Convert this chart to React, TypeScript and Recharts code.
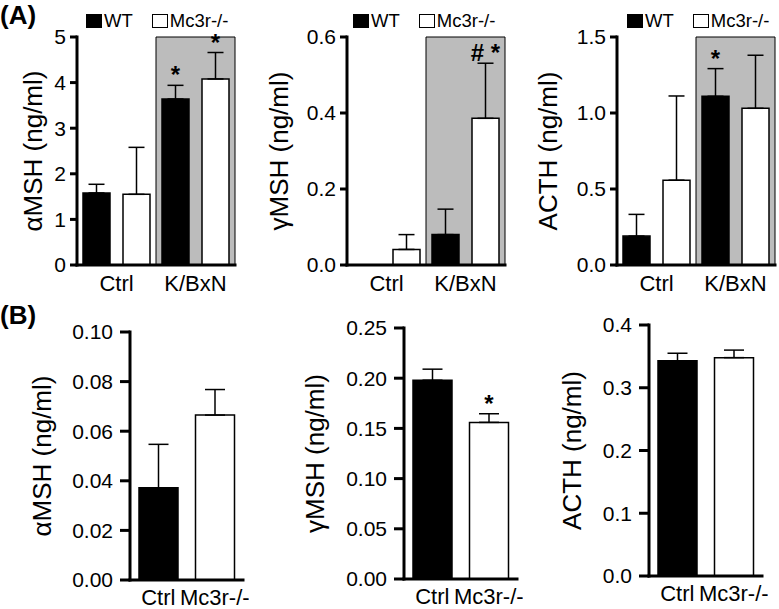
import React from "react";
import {
  BarChart,
  Bar,
  XAxis,
  YAxis,
  ErrorBar,
  ReferenceArea,
  Legend,
  Cell,
  LabelList,
} from "recharts";

const FONT = '"Liberation Sans", Arial, Helvetica, sans-serif';

// (A) WT vs Mc3r-/- in control and K/BxN mice
const groups = ["Ctrl", "K/BxN"];
const seriesNames = ["WT", "Mc3r-/-"];

const amshWt = [1.58, 3.64];
const amshWtErr = [0.19, 0.3];
const amshKo = [1.55, 4.08];
const amshKoErr = [1.03, 0.58];
const amshWtSig = ["", "*"];
const amshKoSig = ["", "*"];
const amshTicks = [0, 1, 2, 3, 4, 5];

const gmshWt = [0, 0.08];
const gmshWtErr = [0, 0.067];
const gmshKo = [0.041, 0.386];
const gmshKoErr = [0.039, 0.145];
const gmshWtSig = ["", ""];
const gmshKoSig = ["", "# *"];
const gmshTicks = [0, 0.2, 0.4, 0.6];

const acthWt = [0.19, 1.11];
const acthWtErr = [0.143, 0.182];
const acthKo = [0.558, 1.031];
const acthKoErr = [0.554, 0.349];
const acthWtSig = ["", "*"];
const acthKoSig = ["", ""];
const acthTicks = [0, 0.5, 1.0, 1.5];

// (B) Ctrl vs Mc3r-/-
const genotypes = ["Ctrl", "Mc3r-/-"];
const genotypeFills = ["#000", "#fff"];

const bAmsh = [0.0372, 0.0665];
const bAmshErr = [0.0175, 0.0103];
const bAmshSig = ["", ""];
const bAmshTicks = [0, 0.02, 0.04, 0.06, 0.08, 0.1];

const bGmsh = [0.198, 0.156];
const bGmshErr = [0.011, 0.0086];
const bGmshSig = ["", "*"];
const bGmshTicks = [0, 0.05, 0.1, 0.15, 0.2, 0.25];

const bActh = [0.343, 0.348];
const bActhErr = [0.012, 0.012];
const bActhSig = ["", ""];
const bActhTicks = [0, 0.1, 0.2, 0.3, 0.4];

const groupRows = (
  wt: number[], wtErr: number[], wtSig: string[],
  ko: number[], koErr: number[], koSig: string[]
) =>
  groups.map((g, i) => ({
    group: g,
    wt: wt[i],
    wtErr: [0, wtErr[i]],
    wtSig: wtSig[i],
    ko: ko[i],
    koErr: [0, koErr[i]],
    koSig: koSig[i],
  }));

const genotypeRows = (vals: number[], errs: number[], sig: string[]) =>
  genotypes.map((g, i) => ({ group: g, value: vals[i], err: [0, errs[i]], sig: sig[i] }));

// star / hash drawn just above the error bar cap
const sigLabel = (vals: number[], errs: number[]) => (p: any) => {
  const text = p.value;
  if (!text) return null;
  const vb = p.viewBox ?? p;
  const i = p.index;
  const h = Math.abs(vb.height);
  const top = Math.min(vb.y, vb.y + vb.height);
  const perUnit = vals[i] ? h / vals[i] : 0;
  const capY = top - errs[i] * perUnit;
  return (
    <text
      x={vb.x + vb.width / 2}
      y={capY - 2}
      textAnchor="middle"
      fontSize={24}
      fontWeight="bold"
      fontFamily={FONT}
      fill="#000"
    >
      {text}
    </text>
  );
};

const axisLine = { stroke: "#000", strokeWidth: 3, strokeLinecap: "square" as const };

const yTitle = (title: string, relX: number) => (p: any) => {
  const vb = p.viewBox ?? { x: 0, y: 0, width: 0, height: 0 };
  const x = vb.x + relX;
  const y = vb.y + vb.height / 2;
  return (
    <text
      x={x}
      y={y}
      transform={`rotate(-90 ${x} ${y})`}
      textAnchor="middle"
      dominantBaseline="central"
      fontSize={26}
      fontFamily={FONT}
      fill="#000"
    >
      {title}
    </text>
  );
};

const LegendBox = (props: any) => {
  const items = [...(props.payload ?? [])].sort(
    (a: any, b: any) => seriesNames.indexOf(a.value) - seriesNames.indexOf(b.value)
  );
  return (
    <div
      style={{
        display: "flex",
        alignItems: "center",
        fontFamily: FONT,
        fontSize: 18.5,
        lineHeight: "18.5px",
        color: "#000",
        whiteSpace: "nowrap",
      }}
    >
      {items.map((item: any, i: number) => (
        <div key={item.value} style={{ display: "flex", alignItems: "center", marginLeft: i ? 19 : 0 }}>
          <span
            style={{
              display: "inline-block",
              width: 16,
              height: 14,
              boxSizing: "border-box",
              background: item.color,
              border: "1.5px solid #000",
              marginRight: 2,
            }}
          />
          <span>{item.value}</span>
        </div>
      ))}
    </div>
  );
};

const Y_A = 95;
const A_TOP = 37;
const A_H = 228;

interface GroupPanelProps {
  axisX: number;
  plotW: number;
  titleX: number;
  legendX: number;
  title: string;
  ticks: number[];
  decimals: number;
  wt: number[]; wtErr: number[]; wtSig: string[];
  ko: number[]; koErr: number[]; koSig: string[];
}

const GroupPanel = (p: GroupPanelProps) => {
  const left = p.axisX - Y_A;
  const data = groupRows(p.wt, p.wtErr, p.wtSig, p.ko, p.koErr, p.koSig);
  const width = Y_A + p.plotW + 6;
  return (
    <div style={{ position: "absolute", left, top: 0 }}>
      <BarChart
        width={width}
        height={A_TOP + A_H + 40}
        data={data}
        margin={{ top: A_TOP, right: 6, left: 0, bottom: 0 }}
        barGap={13}
      >
        <ReferenceArea
          x1="K/BxN"
          x2="K/BxN"
          fill="#bcbcbc"
          fillOpacity={1}
          stroke="#000"
          strokeWidth={1}
        />
        <XAxis
          dataKey="group"
          type="category"
          interval={0}
          height={40}
          tickLine={false}
          tickSize={0}
          tickMargin={10}
          axisLine={axisLine}
          tick={{ fill: "#000", fontSize: 22, fontFamily: FONT }}
        />
        <YAxis
          type="number"
          width={Y_A}
          domain={[0, p.ticks[p.ticks.length - 1]]}
          ticks={p.ticks}
          interval={0}
          tickFormatter={(v: number) => v.toFixed(p.decimals)}
          axisLine={axisLine}
          tickLine={{ stroke: "#000", strokeWidth: 3 }}
          tickSize={7}
          tickMargin={4}
          tick={{ fill: "#000", fontSize: 21, fontFamily: FONT }}
          label={yTitle(p.title, p.titleX - left)}
        />
        <Legend
          layout="horizontal"
          verticalAlign="middle"
          align="center"
          wrapperStyle={{ top: 12, left: p.legendX - left, width: "auto" }}
          content={LegendBox}
        />
        <Bar dataKey="wt" name="WT" fill="#000" stroke="#000" strokeWidth={1.5} barSize={27} isAnimationActive={false}>
          <ErrorBar dataKey="wtErr" direction="y" width={8} stroke="#000" strokeWidth={1.5} />
          <LabelList dataKey="wtSig" content={sigLabel(p.wt, p.wtErr)} />
        </Bar>
        <Bar dataKey="ko" name="Mc3r-/-" fill="#fff" stroke="#000" strokeWidth={1.5} barSize={27} isAnimationActive={false}>
          <ErrorBar dataKey="koErr" direction="y" width={8} stroke="#000" strokeWidth={1.5} />
          <LabelList dataKey="koSig" content={sigLabel(p.ko, p.koErr)} />
        </Bar>
      </BarChart>
    </div>
  );
};

const Y_B = 120;
const B_TOP = 300;

interface GenotypePanelProps {
  axisX: number;
  plotTop: number;
  plotBottom: number;
  titleX: number;
  title: string;
  ticks: number[];
  decimals: number;
  vals: number[];
  errs: number[];
  sig: string[];
}

const GenotypePanel = (p: GenotypePanelProps) => {
  const left = p.axisX - Y_B;
  const mTop = p.plotTop - B_TOP;
  const plotH = p.plotBottom - p.plotTop;
  const data = genotypeRows(p.vals, p.errs, p.sig);
  return (
    <div style={{ position: "absolute", left, top: B_TOP }}>
      <BarChart
        width={Y_B + 113 + 6}
        height={mTop + plotH + 29}
        data={data}
        margin={{ top: mTop, right: 6, left: 0, bottom: 0 }}
      >
        <XAxis
          dataKey="group"
          type="category"
          interval={0}
          height={29}
          tickLine={false}
          tickSize={0}
          tickMargin={9}
          axisLine={axisLine}
          tick={{ fill: "#000", fontSize: 22, fontFamily: FONT }}
        />
        <YAxis
          type="number"
          width={Y_B}
          domain={[0, p.ticks[p.ticks.length - 1]]}
          ticks={p.ticks}
          interval={0}
          tickFormatter={(v: number) => v.toFixed(p.decimals)}
          axisLine={axisLine}
          tickLine={{ stroke: "#000", strokeWidth: 3 }}
          tickSize={10}
          tickMargin={7}
          tick={{ fill: "#000", fontSize: 21, fontFamily: FONT }}
          label={yTitle(p.title, p.titleX - left)}
        />
        <Bar dataKey="value" stroke="#000" strokeWidth={1.5} barSize={39} isAnimationActive={false}>
          {data.map((d, i) => (
            <Cell key={d.group} fill={genotypeFills[i]} />
          ))}
          <ErrorBar dataKey="err" direction="y" width={10} stroke="#000" strokeWidth={1.5} />
          <LabelList dataKey="sig" content={sigLabel(p.vals, p.errs)} />
        </Bar>
      </BarChart>
    </div>
  );
};

const panelTag = (top: number): React.CSSProperties => ({
  position: "absolute",
  left: 0,
  top,
  fontFamily: FONT,
  fontWeight: "bold",
  fontSize: 26,
  lineHeight: "30px",
  color: "#000",
});

export default function App() {
  return (
    <div style={{ position: "absolute", left: 0, top: 0, width: 779, height: 609, background: "#fff" }}>
      <div style={panelTag(0)}>(A)</div>
      <div style={panelTag(300)}>(B)</div>

      <GroupPanel axisX={77} plotW={158} titleX={33} legendX={86} title="αMSH (ng/ml)" ticks={amshTicks} decimals={0}
        wt={amshWt} wtErr={amshWtErr} wtSig={amshWtSig} ko={amshKo} koErr={amshKoErr} koSig={amshKoSig} />
      <GroupPanel axisX={347} plotW={158} titleX={279} legendX={353} title="γMSH (ng/ml)" ticks={gmshTicks} decimals={1}
        wt={gmshWt} wtErr={gmshWtErr} wtSig={gmshWtSig} ko={gmshKo} koErr={gmshKoErr} koSig={gmshKoSig} />
      <GroupPanel axisX={617} plotW={158} titleX={548} legendX={627} title="ACTH (ng/ml)" ticks={acthTicks} decimals={1}
        wt={acthWt} wtErr={acthWtErr} wtSig={acthWtSig} ko={acthKo} koErr={acthKoErr} koSig={acthKoSig} />

      <GenotypePanel axisX={130} plotTop={332} plotBottom={580} titleX={42} title="αMSH (ng/ml)" ticks={bAmshTicks} decimals={2}
        vals={bAmsh} errs={bAmshErr} sig={bAmshSig} />
      <GenotypePanel axisX={404} plotTop={328} plotBottom={579} titleX={315} title="γMSH (ng/ml)" ticks={bGmshTicks} decimals={2}
        vals={bGmsh} errs={bGmshErr} sig={bGmshSig} />
      <GenotypePanel axisX={649} plotTop={325} plotBottom={576} titleX={572} title="ACTH (ng/ml)" ticks={bActhTicks} decimals={1}
        vals={bActh} errs={bActhErr} sig={bActhSig} />
    </div>
  );
}
